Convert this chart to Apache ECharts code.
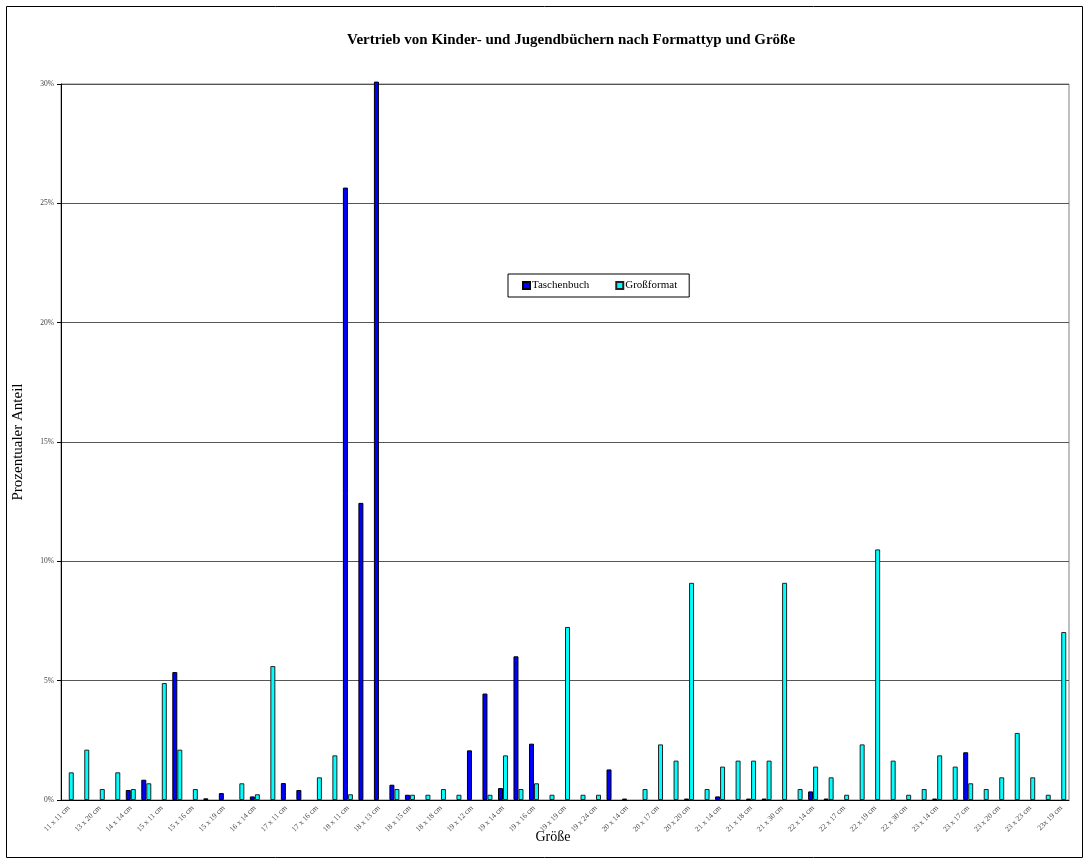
<!DOCTYPE html>
<html>
<head>
<meta charset="utf-8">
<script src="https://cdn.jsdelivr.net/npm/echarts@6/dist/echarts.min.js"></script>
<style>
  html, body { margin: 0; padding: 0; background: #fff; }
  #chart { width: 1089px; height: 865px; }
</style>
</head>
<body>
<div id="chart"></div>
<script>
  // Größenkategorien (nur jede zweite ist im Original beschriftet)
  const sizes = [
    '11 x 11 cm', '12 x 17 cm', '13 x 20 cm', '14 x 11 cm', '14 x 14 cm', '14 x 21 cm',
    '15 x 11 cm', '15 x 15 cm', '15 x 16 cm', '15 x 18 cm', '15 x 19 cm', '16 x 11 cm',
    '16 x 14 cm', '16 x 24 cm', '17 x 11 cm', '17 x 12 cm', '17 x 16 cm', '17 x 24 cm',
    '18 x 11 cm', '18 x 12 cm', '18 x 13 cm', '18 x 14 cm', '18 x 15 cm', '18 x 16 cm',
    '18 x 18 cm', '18 x 24 cm', '19 x 12 cm', '19 x 13 cm', '19 x 14 cm', '19 x 15 cm',
    '19 x 16 cm', '19 x 17 cm', '19 x 19 cm', '19 x 21 cm', '19 x 24 cm', '20 x 13 cm',
    '20 x 14 cm', '20 x 15 cm', '20 x 17 cm', '20 x 18 cm', '20 x 20 cm', '20 x 26 cm',
    '21 x 14 cm', '21 x 15 cm', '21 x 18 cm', '21 x 28 cm', '21 x 30 cm', '22 x 12 cm',
    '22 x 14 cm', '22 x 16 cm', '22 x 17 cm', '22 x 18 cm', '22 x 19 cm', '22 x 28 cm',
    '22 x 30 cm', '23 x 12 cm', '23 x 14 cm', '23 x 16 cm', '23 x 17 cm', '23 x 18 cm',
    '23 x 20 cm', '23 x 22 cm', '23 x 23 cm', '23 x 30 cm', '23x 19 cm'
  ];

  // Prozentwerte, '-' = kein Balken
  const taschenbuch = [
    '-', '-', '-', '-', 0.42, 0.85, '-', 5.36, '-', 0.07, 0.29, '-', 0.15, '-', 0.71, 0.42, '-', '-',
    25.66, 12.45, 30.1, 0.64, 0.22, '-', '-', '-', 2.08, 4.46, 0.50, 6.02, 2.36, '-', '-', '-', '-',
    1.28, 0.06, '-', '-', '-', 0.06, '-', 0.15, '-', 0.06, 0.06, '-', '-', 0.36, 0.06, '-', '-', '-',
    '-', '-', '-', 0.06, '-', 2.00, '-', '-', '-', '-', '-', '-'
  ];
  const grossformat = [
    1.16, 2.11, 0.46, 1.16, 0.46, 0.70, 4.90, 2.11, 0.46, '-', '-', 0.70, 0.24, 5.61, '-', '-', 0.95, 1.87,
    0.24, '-', '-', 0.46, 0.22, 0.22, 0.46, 0.22, '-', 0.22, 1.87, 0.46, 0.70, 0.22, 7.25, 0.22, 0.22,
    '-', '-', 0.46, 2.33, 1.65, 9.1, 0.46, 1.40, 1.65, 1.65, 1.65, 9.1, 0.46, 1.40, 0.95, 0.22, 2.33, 10.5,
    1.65, 0.22, 0.46, 1.87, 1.40, 0.70, 0.46, 0.95, 2.81, 0.95, 0.22, 7.04
  ];

  const serif = 'Liberation Serif';

  const option = {
    backgroundColor: '#fff',
    animation: false,
    title: {
      text: 'Vertrieb von Kinder- und Jugendbüchern nach Formattyp und Größe',
      left: 566,
      top: 28,
      textAlign: 'center',
      textStyle: { fontFamily: serif, fontSize: 15, fontWeight: 'bold', color: '#000' }
    },
    legend: {
      data: ['Taschenbuch', 'Großformat'],
      left: 508,
      top: 274,
      padding: [6, 12, 6, 14],
      borderColor: '#000',
      borderWidth: 1,
      itemWidth: 7,
      itemHeight: 7,
      itemGap: 26,
      icon: 'rect',
      textStyle: { fontFamily: serif, fontSize: 11, color: '#000', padding: [0, 0, 0, -3] }
    },
    grid: {
      left: 61,
      right: 20,
      top: 84,
      bottom: 65,
      show: true,
      borderColor: '#808080',
      borderWidth: 1
    },
    xAxis: {
      type: 'category',
      data: sizes,
      name: 'Größe',
      nameLocation: 'middle',
      nameGap: 30,
      nameMoveOverlap: false,
      nameTextStyle: { fontFamily: serif, fontSize: 14, color: '#000', padding: [0, 24, 0, 0] },
      axisLine: { lineStyle: { color: '#000' } },
      axisTick: { interval: 0, length: 3, lineStyle: { color: '#000' } },
      axisLabel: {
        interval: 1,
        rotate: 45,
        fontFamily: serif,
        fontSize: 7.5,
        color: '#444',
        margin: 7
      }
    },
    yAxis: {
      type: 'value',
      min: 0,
      max: 30,
      interval: 5,
      name: 'Prozentualer Anteil',
      nameLocation: 'middle',
      nameGap: 35,
      nameMoveOverlap: false,
      nameTextStyle: { fontFamily: serif, fontSize: 15, color: '#000' },
      axisLine: { show: true, lineStyle: { color: '#000' } },
      axisTick: { show: true, length: 4, lineStyle: { color: '#000' } },
      axisLabel: { formatter: '{value}%', fontFamily: serif, fontSize: 7.5, color: '#444', margin: 7 },
      splitLine: { lineStyle: { color: '#555', width: 1 } }
    },
    graphic: [
      {
        type: 'rect',
        shape: { x: 6.5, y: 6.5, width: 1076, height: 851 },
        style: { fill: 'none', stroke: '#000', lineWidth: 1 },
        silent: true
      }
    ],
    series: [
      {
        name: 'Taschenbuch',
        type: 'bar',
        data: taschenbuch,
        barWidth: 5,
        barGap: 0,
        clip: false,
        itemStyle: { color: '#0000ff', borderColor: '#000', borderWidth: 1 }
      },
      {
        name: 'Großformat',
        type: 'bar',
        data: grossformat,
        barWidth: 5,
        itemStyle: { color: '#00ffff', borderColor: '#222', borderWidth: 1 }
      }
    ]
  };

  const chart = echarts.init(document.getElementById('chart'));
  chart.setOption(option);
</script>
</body>
</html>
